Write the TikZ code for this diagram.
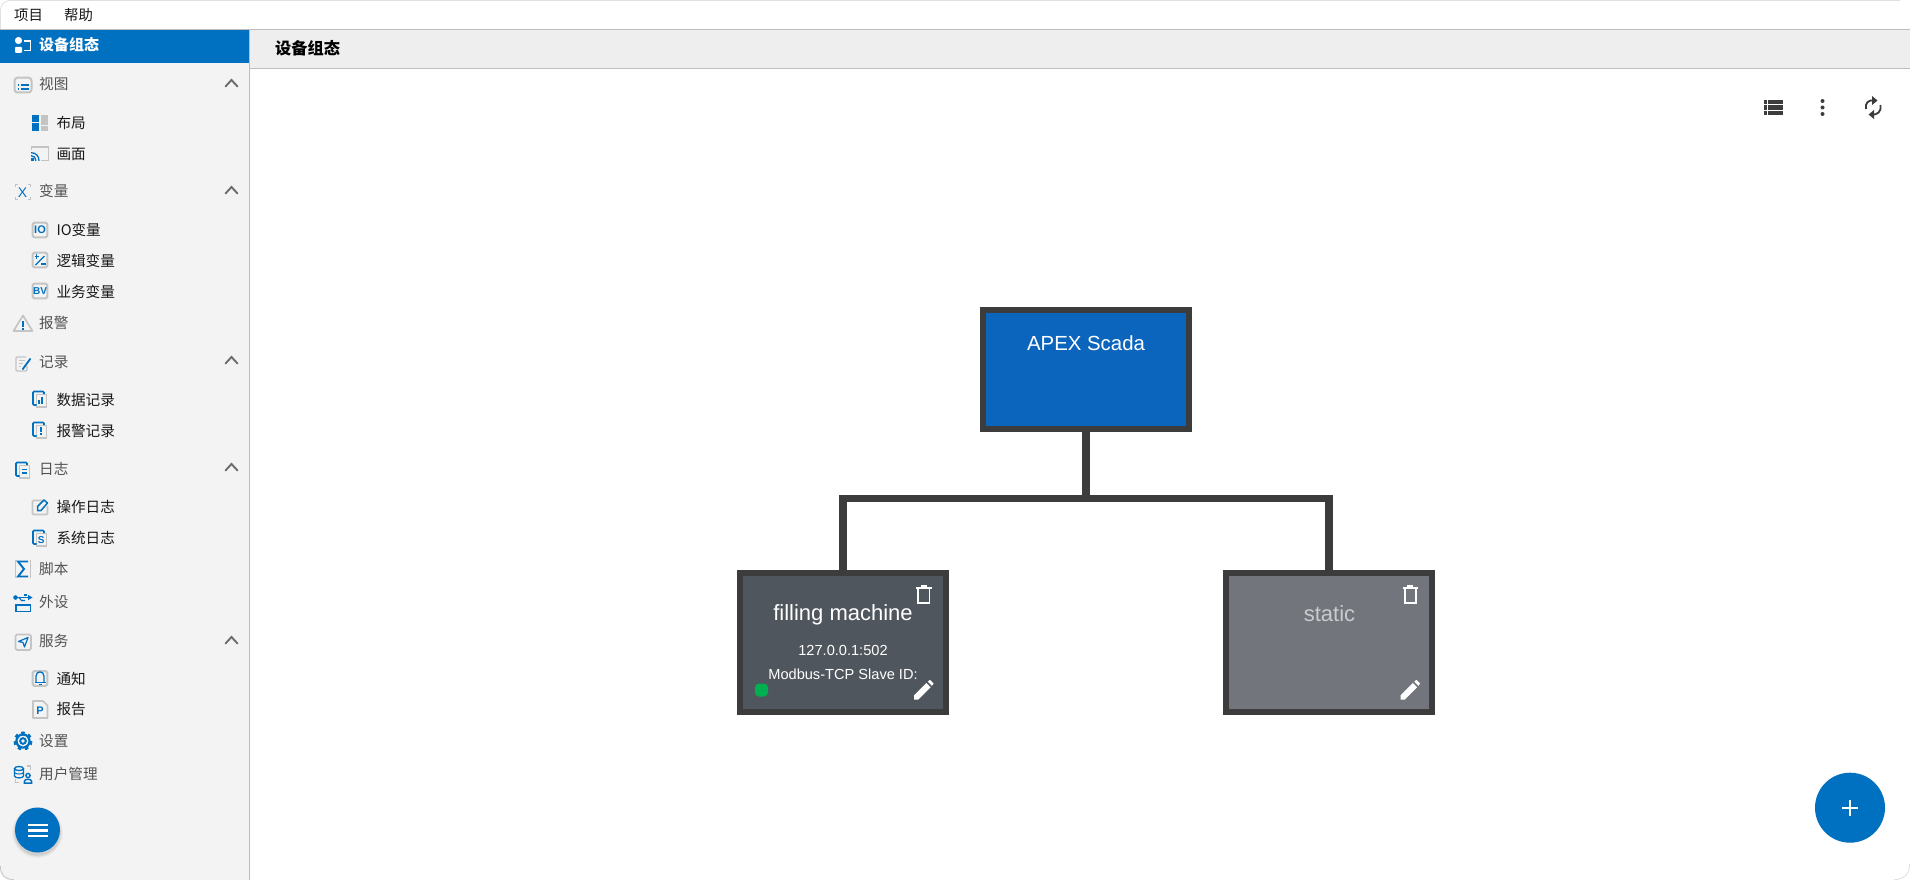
\documentclass[tikz,border=0pt]{standalone}
\usepackage{fontspec}
\setmainfont{Noto Sans CJK SC}
\newfontfamily\latinf{Liberation Sans}
\usetikzlibrary{arrows.meta}
\definecolor{ablue}{HTML}{0070C0}
\definecolor{sidebg}{HTML}{F3F3F3}
\definecolor{edgeg}{HTML}{BDBDBD}
\definecolor{icong}{HTML}{C4C4C4}
\definecolor{darkb}{HTML}{3C3C3C}
\definecolor{apexfill}{HTML}{0B65BD}
\definecolor{fillfill}{HTML}{50565D}
\definecolor{staticfill}{HTML}{72767C}
\definecolor{statictext}{HTML}{C9CBCD}
\definecolor{okgreen}{HTML}{00B050}
\newcommand{\fsz}[1]{\fontsize{#1}{#1}\selectfont}
\tikzset{
  x=1pt,y=-1pt,
  lone/.style={anchor=west,inner sep=0pt,text=black!68,font=\fsz{14.6}},
  ltwo/.style={anchor=west,inner sep=0pt,text=black!90,font=\fsz{14.6}},
  chev/.style={draw=black!58,line width=1.9pt,line cap=round,line join=miter},
  gline/.style={draw=icong,line width=1.7pt},
  bline/.style={draw=ablue,line width=1.5pt},
  devbox/.style={rectangle,draw=darkb,line width=6pt,minimum width=206pt,minimum height=119pt,inner sep=0pt},
  childbox/.style={devbox,minimum height=139pt},
  conn/.style={draw=darkb,line width=7.3pt},
  devtext/.style={inner sep=0pt,text=white,font=\latinf\fsz{20.4}},
  bigtext/.style={inner sep=0pt,text=white,font=\latinf\fsz{22}},
  devsub/.style={inner sep=0pt,text=white,font=\latinf\fsz{14.6}},
  icontxt/.style={inner sep=0pt,text=ablue,font=\latinf\bfseries\fsz{10}},
  trashicon/.pic={
    \fill[white] (-7.7,-8) rectangle (7.7,-6);
    \fill[white] (-3,-9.5) rectangle (3,-8);
    \draw[white,line width=1.8pt] (-5.6,-6) -- (-5.6,8.2) -- (5.6,8.2) -- (5.6,-6);
  },
  penicon/.pic={
    \fill[white] (-9.7,9.5) -- (-9.7,5.3) -- (2.6,-7) -- (6.8,-2.8) -- (-5.5,9.5) -- cycle;
    \fill[white] (4,-8.4) -- (6.2,-10.2) -- (9.8,-6.6) -- (8.2,-4.2) -- cycle;
  },
  sqicon/.pic={
    \draw[gline,line width=2pt,rounded corners=1.5pt] (-7.3,-7.3) rectangle (7.3,7.3);
  },
  docicon/.pic={
    \draw[gline,line width=1.4pt] (-3.5,-4.5) rectangle (6.5,8);
    \draw[bline,line width=1.7pt,rounded corners=1pt] (-3.5,6) -- (-7,6) -- (-7,-7.5) -- (4,-7.5) -- (4,-4.8);
  }
}
\begin{document}
\begin{tikzpicture}
\useasboundingbox (0,0) rectangle (1910,880);
\fill[white] (0,0) rectangle (1910,880);
% window frame and sidebar
\fill[sidebg] (0,30) -- (0,868) .. controls (0,876) and (4,880) .. (12,880) -- (250,880) -- (250,30) -- cycle;
\draw[edgeg,line width=1.2pt] (249.5,30) -- (249.5,880);
\fill[black!6.5] (250,30) rectangle (1910,68);
\draw[edgeg,line width=1pt] (250,68.5) -- (1910,68.5);
\draw[edgeg,line width=1pt] (0,29.5) -- (1910,29.5);
\draw[black!12,line width=.8pt] (0.4,29) -- (0.4,12) .. controls (0.4,4) and (4,0.4) .. (12,0.4) -- (1900,0.4);
\draw[black!12,line width=.8pt] (1909.6,864) .. controls (1909.6,874) and (1904,879.6) .. (1894,879.6);
\draw[black!22,line width=.8pt] (0.4,866) .. controls (0.4,875) and (5,879.6) .. (14,879.6);
\fill[ablue] (0,30) rectangle (249,63);
% menu
\node[ltwo,font=\fsz{14.4}] (mProj) at (14,15) {项目};
\node[ltwo,font=\fsz{14.4}] (mHelp) at (64,15) {帮助};
% sidebar labels
\node[anchor=west,inner sep=0pt,text=white,font=\fsz{15}\bfseries] (tActive) at (39,45) {设备组态};
\node[lone] (t1) at (39,83.5) {视图};
\node[ltwo] (t2) at (56.3,123) {布局};
\node[ltwo] (t3) at (56.3,154) {画面};
\node[lone] (t4) at (39,191) {变量};
\node[ltwo] (t5) at (56.3,229.5) {IO变量};
\node[ltwo] (t6) at (56.3,260.5) {逻辑变量};
\node[ltwo] (t7) at (56.3,291.5) {业务变量};
\node[lone] (t8) at (39,322.5) {报警};
\node[lone] (t9) at (39,362) {记录};
\node[ltwo] (t10) at (56.3,400) {数据记录};
\node[ltwo] (t11) at (56.3,431) {报警记录};
\node[lone] (t12) at (39,469) {日志};
\node[ltwo] (t13) at (56.3,507) {操作日志};
\node[ltwo] (t14) at (56.3,538) {系统日志};
\node[lone] (t15) at (39,569) {脚本};
\node[lone] (t16) at (39,602) {外设};
\node[lone] (t17) at (39,640.5) {服务};
\node[ltwo] (t18) at (56.3,678.5) {通知};
\node[ltwo] (t19) at (56.3,709.5) {报告};
\node[lone] (t20) at (39,741) {设置};
\node[lone] (t21) at (39,773.5) {用户管理};
% chevrons
\foreach \yy in {83,190,360,467,640}
  \draw[chev] (225.5,\yy+3.5) -- (231.5,\yy-3) -- (237.5,\yy+3.5);
% active icon
\fill[white] (18.5,40.5) circle (3.6);
\fill[white,rounded corners=1pt] (15,47) rectangle (22,53);
\draw[white,line width=1.7pt] (24,41) -- (30.5,41) -- (30.5,50.5) -- (24,50.5);
% view icon
\draw[draw=icong,line width=2pt,rounded corners=3pt] (14.5,77.7) rectangle (31.5,92.5);
\foreach \yy in {85,88.8} {\draw[ablue,line width=1.7pt] (17.5,\yy) -- (19.3,\yy); \draw[ablue,line width=1.7pt] (20.5,\yy) -- (28.7,\yy);}
% layout icon
\fill[ablue] (32,115.3) rectangle (39.3,122.3);
\fill[ablue] (32,123.4) rectangle (39.3,131);
\fill[icong] (40.7,115.3) rectangle (48,125);
\fill[icong] (40.7,126) rectangle (48,131);
% cast icon
\draw[gline,line width=1.4pt] (31.5,150) -- (31.5,147) -- (48.5,147) -- (48.5,160.5) -- (41,160.5);
\fill[ablue] (31,158) rectangle ++(2.6,2.8);
\draw[ablue,line width=1.3pt] (31,155.6) .. controls (34,155.6) and (36,158) .. (36,160.8);
\draw[ablue,line width=1.3pt] (31,152.7) .. controls (36,152.7) and (39,156) .. (39,160.8);
% X icon
\draw[gline,line width=1.1pt] (18,184.5) -- (15.5,184.5) -- (15.5,187);
\draw[gline,line width=1.1pt] (28,184.5) -- (30.5,184.5) -- (30.5,187);
\draw[gline,line width=1.1pt] (18,199.5) -- (15.5,199.5) -- (15.5,197);
\draw[gline,line width=1.1pt] (28,199.5) -- (30.5,199.5) -- (30.5,197);
\node[icontxt,font=\latinf\fsz{14}] (iX) at (22.5,192.5) {X};
% square icons
\pic at (40,230) {sqicon};
\node[icontxt,font=\latinf\bfseries\fsz{11}] (iIO) at (40,230) {IO};
\pic at (40,260) {sqicon};
\draw[ablue,line width=1.4pt] (35.5,265) -- (44.5,256);
\draw[ablue,line width=1.2pt] (34.5,256.5) -- (39,256.5) (36.7,254.2) -- (36.7,258.8);
\draw[ablue,line width=1.2pt] (41,264) -- (45.5,264);
\pic at (40,291) {sqicon};
\node[icontxt,font=\latinf\bfseries\fsz{10}] (iBV) at (40,291.3) {BV};
% alarm icon
\draw[gline,line join=round] (23,315.5) -- (13.5,331) -- (32.5,331) -- cycle;
\fill[ablue] (22,320.5) rectangle (24,326.5);
\fill[ablue] (22,327.7) rectangle (24,329.7);
% record icon
\draw[gline,line width=1.3pt,rounded corners=1pt] (26,357) -- (16,357) -- (16,371) -- (27,371) -- (27,366);
\draw[icong,line width=1pt] (18.5,360.5) -- (25,360.5) (18.5,363.5) -- (23,363.5) (18.5,366.5) -- (21,366.5);
\draw[ablue,line width=1.8pt] (22.5,369.5) -- (30.5,358.5);
% doc icons
\pic at (40,399) {docicon};
\fill[ablue] (38,400) rectangle (39.8,403.5);
\fill[ablue] (40.7,396.5) rectangle (42.5,403.5);
\pic at (40,430) {docicon};
\fill[ablue] (40.3,427) rectangle (41.8,432);
\fill[ablue] (40.3,433.2) rectangle (41.8,434.7);
\pic at (23,470) {docicon};
\draw[ablue,line width=1.2pt] (21.5,469.5) -- (27,469.5) (21.5,473) -- (27,473);
% operate log icon
\draw[gline,rounded corners=1pt] (42,500.5) -- (32.5,500.5) -- (32.5,514.5) -- (47.5,514.5) -- (47.5,506);
\draw[bline,line join=round] (37.5,510.5) -- (37.5,506.5) -- (44,500) -- (47.5,503) -- (41,510.5) -- cycle;
\pic at (40,538) {docicon};
\node[icontxt,font=\latinf\bfseries\fsz{10}] (iS) at (41.3,539.7) {S};
% sigma icon
\draw[icong,line width=1pt] (15.5,560) -- (15.5,578) (30,560) -- (30,578);
\draw[ablue,line width=1.9pt] (28,561.5) -- (18,561.5) -- (24,569) -- (18,576.5) -- (28,576.5);
% usb icon
\draw[ablue,line width=1.2pt] (15,597.5) -- (29,597.5);
\fill[ablue] (15.5,597.5) circle (2.3);
\fill[ablue] (24,593.5) rectangle (27,596);
\fill[ablue] (28,594.8) -- (32.5,597.5) -- (28,600.2) -- cycle;
\draw[ablue,line width=1.1pt] (19,597.5) -- (21.5,600.5) -- (25,600.5);
\draw[ablue,line width=1.6pt] (15.8,604.8) rectangle (30.5,611.3);
% service icon
\draw[gline,rounded corners=1.5pt] (15.5,634.5) rectangle (31,650);
\draw[ablue,line width=1.2pt,line join=round] (18.5,641.5) -- (28,637.5) -- (24.5,647) -- (23,642.5) -- cycle;
% bell icon
\pic at (40,678.5) {sqicon};
\draw[bline,line width=1.3pt,line join=round] (36,682) -- (36,676) .. controls (36,670.5) and (44,670.5) .. (44,676) -- (44,682);
\draw[ablue,line width=1.3pt] (34.5,682.3) -- (45.5,682.3);
\fill[ablue] (38.5,683.5) rectangle (41.5,685);
% report icon
\draw[gline,line join=round] (33,701) -- (43,701) -- (47.5,705.5) -- (47.5,718) -- (33,718) -- cycle;
\node[icontxt,font=\latinf\bfseries\fsz{11}] (iP) at (40,710.3) {P};
% gear icon
\draw[ablue,line width=4pt,dash pattern=on 3.2pt off 3.5pt] (23,741) circle (7.5);
\draw[ablue,line width=2.2pt] (23,741) circle (6.6);
\draw[ablue,line width=2pt] (23,741) circle (2.8);
% user admin icon
\draw[gline,line width=1.1pt] (27,766) -- (30.5,766) -- (30.5,770);
\draw[gline,line width=1.1pt] (15.5,779) -- (15.5,782.5) -- (19,782.5);
\draw[ablue,line width=1.3pt] (19,768.5) ellipse (4.5 and 2);
\draw[ablue,line width=1.3pt] (14.5,768.5) -- (14.5,776) .. controls (14.5,778.5) and (23.5,778.5) .. (23.5,776) -- (23.5,768.5);
\draw[ablue,line width=1pt] (14.5,772.5) .. controls (14.5,774.5) and (23.5,774.5) .. (23.5,772.5);
\draw[ablue,line width=1.4pt] (28,775.5) circle (2.1);
\draw[ablue,line width=1.5pt] (24.3,783) -- (24.3,781.5) .. controls (24.3,778.5) and (31.7,778.5) .. (31.7,781.5) -- (31.7,783) -- cycle;
% menu fab
\foreach \r/\o in {25.5/.03,24.3/.05,23.2/.07} \fill[black,opacity=\o] (37.5,832.5) circle (\r);
\fill[ablue] (37.5,830) circle (22.5);
\foreach \yy in {825,830.5,836} \draw[white,line width=2.6pt] (28,\yy) -- (47.5,\yy);
% header title
\node[anchor=west,inner sep=0pt,text=black,font=\fsz{16.2}\bfseries] (tTitle) at (275,48) {设备组态};
% toolbar icons
\foreach \yy in {102,107.5,113} {\fill[darkb] (1763.5,\yy-2.2) rectangle (1767,\yy+2.2); \fill[darkb] (1768,\yy-2.2) rectangle (1782.5,\yy+2.2);}
\foreach \yy in {101,107.5,114} \fill[darkb] (1822.5,\yy) circle (2);
\draw[darkb,line width=1.8pt] (1866,109) .. controls (1864.5,103) and (1869,99.5) .. (1874,100.5);
\draw[darkb,line width=1.8pt] (1880.5,105) .. controls (1882,111) and (1877,115.5) .. (1872,114.5);
\fill[darkb] (1872,96) -- (1877.5,100.5) -- (1872,105) -- cycle;
\fill[darkb] (1874,110) -- (1868.5,114.5) -- (1874,119) -- cycle;
% device tree
\coordinate (bus) at (1086,498.7);
\node[devbox,fill=apexfill] (apex) at (1086,369.5) {};
\node[childbox,fill=fillfill] (filling) at (843,642.5) {};
\node[childbox,fill=staticfill] (static) at (1329,642.5) {};
\draw[conn] (apex.south) -- (bus);
\draw[conn] (filling.north) |- (bus);
\draw[conn] (static.north) |- (bus);
\node[devtext] (apexText) at (1086,343.5) {APEX Scada};
\node[bigtext] (fillText) at (843,614.5) {filling machine};
\node[devsub] (fillAddr) at (843,650) {127.0.0.1:502};
\node[devsub] (fillProto) at (843,674) {Modbus-TCP Slave ID:};
\node[bigtext,text=statictext] (staticText) at (1329.5,613.5) {static};
\fill[okgreen,rounded corners=4pt] (755,683.5) rectangle (768,696.5);
\pic at (923.8,594.5) {trashicon};
\pic at (923.8,690) {penicon};
\pic at (1410.3,594.5) {trashicon};
\pic at (1410.3,690) {penicon};
% add fab
\fill[ablue] (1850,807.7) circle (35);
\draw[white,line width=2pt] (1842,807.7) -- (1858,807.7) (1850,799.7) -- (1850,815.7);
\end{tikzpicture}
\end{document}
